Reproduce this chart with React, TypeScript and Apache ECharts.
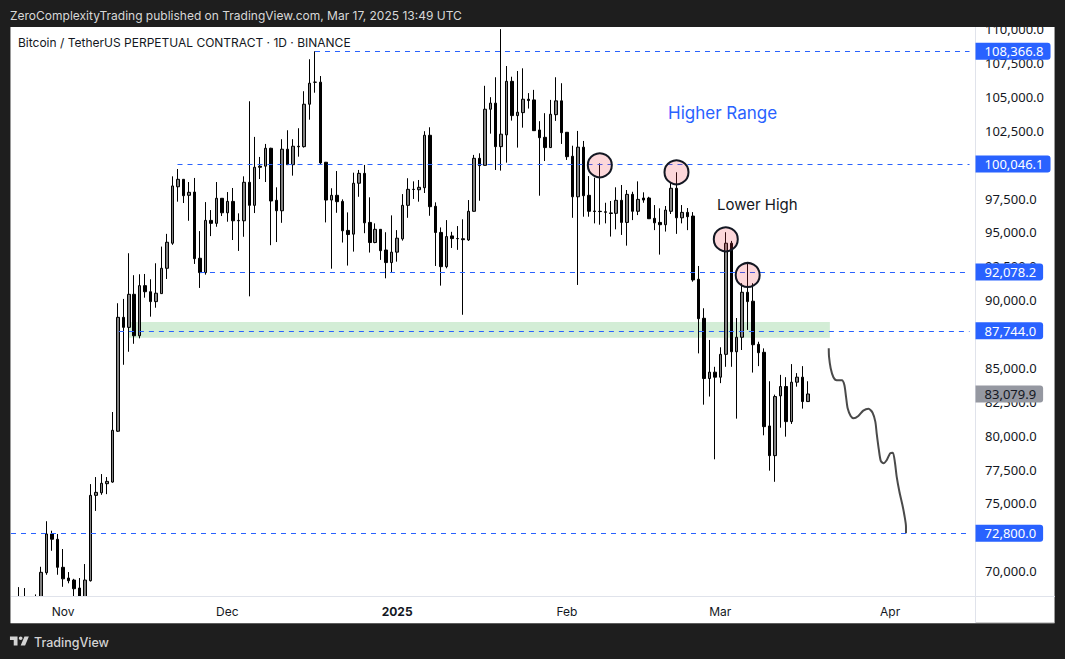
import { useEffect, useRef } from 'react';
import * as echarts from 'echarts';

const firstDay = Date.UTC(2024, 9, 23);
const dayCount = 176;
const categories: string[] = [];
for (let i = 0; i < dayCount; i++) {
  categories.push(new Date(firstDay + i * 86400000).toISOString().slice(0, 10));
}

const monthLabels: Record<string, string> = {
  '2024-11-01': 'Nov',
  '2024-12-01': 'Dec',
  '2025-01-01': '{b|2025}',
  '2025-02-01': 'Feb',
  '2025-03-01': 'Mar',
  '2025-04-01': 'Apr',
};

// 72,500 / 87,500 / 100,000 sit fully behind the level tags in the original
const priceTicks = [
  70000, 75000, 77500, 80000, 82500, 85000, 90000, 92500, 95000, 97500,
  102500, 105000, 107500, 110000,
];

const opens = [
  null, 67900, 67700, 67900, 67700, 68000, 69890, 72750, 72360, 70290,
  69500, 69350, 68760, 68000, 69300, 75600, 75790, 76460, 76580, 80330,
  88735, 87995, 90435, 87375, 91075, 90625, 89895, 90485, 92355, 94205,
  98370, 98920, 97740, 97980, 93095, 92035, 95890, 95670, 97520, 96450,
  97290, 95890, 95860, 98700, 97000, 99890, 99890, 101210, 97370, 96600,
  101140, 100000, 101360, 101330, 104460, 106080, 106090, 100180, 97390, 97740,
  97290, 95150, 94875, 98630, 99360, 95740, 94255, 95230, 93705, 92775,
  93545, 94525, 97000, 98180, 98150, 98300, 102170, 96930, 95000, 92475,
  94745, 94555, 94535, 94445, 96560, 100470, 99950, 104090, 104540, 101330,
  102200, 106150, 103620, 103840, 104830, 104780, 102560, 102020, 101260, 103690,
  104710, 102390, 100620, 97630, 101290, 97740, 96580, 96560, 96520, 96440,
  96410, 97370, 95740, 97810, 96560, 97540, 97540, 96040, 95740, 95570,
  96560, 98260, 96080, 96480, 96210, 91545, 88665, 84220, 84690, 84320,
  86005, 94205, 86195, 87265, 90585, 89925, 86745, 86155, 80720, 78530,
  82940, 83630, 81040, 83950, 84320, 82520,
];

const closes = [
  null, 67600, 67900, 67700, 68000, 69920, 72750, 72360, 70290, 69440,
  69300, 68710, 68000, 69350, 75600, 75820, 76490, 76630, 80400, 88735,
  87995, 90435, 87375, 91075, 90625, 89895, 90515, 92355, 94275, 98430,
  98920, 97710, 97960, 93065, 92035, 95890, 95670, 97520, 96450, 97290,
  95860, 95860, 98700, 97000, 99810, 99810, 101210, 97320, 96600, 101140,
  100000, 101360, 101320, 104460, 106010, 106090, 100130, 97390, 97740, 97270,
  95120, 94845, 98630, 99360, 95710, 94255, 95230, 93655, 92775, 93545,
  94575, 97000, 98180, 98170, 98330, 102170, 96900, 94995, 92475, 94695,
  94545, 94535, 94465, 96560, 100470, 99930, 104090, 104540, 101330, 102250,
  106150, 103620, 103870, 104830, 104730, 102510, 101990, 101260, 103720, 104710,
  102360, 100590, 97630, 101290, 97710, 96560, 96550, 96540, 96490, 96400,
  97370, 95740, 97810, 96560, 97440, 97390, 96010, 95710, 95570, 96650,
  98260, 96080, 96480, 96160, 91495, 88635, 84220, 84690, 84320, 86005,
  94205, 86195, 87265, 90585, 89895, 86715, 86125, 80670, 78530, 82890,
  83630, 81040, 83950, 84320, 82520, 83079.9,
];

const lows = [
  null, 67300, 67400, 67300, 67400, 67700, 69740, 71510, 69740, 68850,
  69110, 68050, 67800, 67800, 69240, 74450, 75640, 75690, 76530, 80280,
  85235, 86195, 86785, 87185, 90185, 88785, 89445, 90485, 91565, 94085,
  97270, 97170, 95860, 92675, 90905, 91885, 94730, 95420, 96210, 95790,
  94440, 93635, 94680, 90285, 96430, 98940, 98720, 94060, 94290, 95710,
  100000, 99190, 100590, 101260, 103320, 105310, 100000, 95740, 92325, 96450,
  94255, 92555, 93585, 97630, 94945, 93515, 94205, 92975, 91615, 92035,
  92845, 94395, 96080, 97470, 97270, 97910, 96230, 92525, 91075, 92355,
  93855, 93715, 88925, 94375, 96530, 97340, 99930, 102290, 99610, 99560,
  100150, 103250, 101260, 102730, 104140, 102490, 97710, 100270, 101230, 103230,
  101530, 100350, 96080, 91125, 96160, 96160, 95670, 95570, 95670, 94695,
  95230, 94815, 94025, 95910, 96280, 97190, 96000, 95170, 93365, 95065,
  96360, 94895, 95670, 95170, 91365, 86075, 82290, 82890, 78260, 83880,
  85085, 85085, 81260, 86325, 87805, 84660, 85135, 80030, 77420, 76600,
  80590, 79930, 80870, 83620, 82000, 82510,
];

const highs = [
  null, 68830, 68760, 68000, 68290, 70330, 73690, 72990, 72750, 71640,
  69940, 69440, 69500, 70530, 76430, 76950, 77170, 76950, 81750, 89775,
  90095, 93465, 91845, 91915, 91935, 91545, 92725, 93955, 94895, 99140,
  99680, 98930, 98720, 99020, 95100, 97240, 96650, 98720, 97520, 97980,
  98280, 96410, 99140, 104680, 102050, 100570, 101530, 101250, 98330, 101880,
  102540, 101880, 102690, 105420, 107780, 108366.8, 106540, 100200, 98260, 99530,
  97440, 96480, 99410, 99610, 99980, 97590, 95670, 95250, 95015, 96260,
  95170, 97830, 99000, 98770, 98870, 102470, 102760, 97220, 95370, 95910,
  95045, 95470, 95970, 97390, 100720, 100840, 105820, 104980, 106450, 110000,
  107280, 106490, 106910, 107110, 105280, 105520, 103210, 103800, 104780, 106450,
  106010, 102400, 101400, 102490, 101750, 99160, 99040, 100100, 97190, 97320,
  98330, 98500, 98130, 98000, 98770, 97960, 97630, 97020, 96780, 96950,
  98700, 99440, 97020, 96800, 96500, 92525, 89405, 87065, 85085, 86525,
  95015, 94375, 88685, 91255, 92805, 91255, 86935, 86445, 84020, 83030,
  84490, 84320, 85285, 84620, 85135, 84020,
];

// horizontal levels: price, first position on the time scale
const levelPrices = [108366.8, 100046.1, 92078.2, 87744.0, 72800.0];
const levelStarts = [55.5, 30.4, 34.5, 19.7, 0];
const lastPrice = 83079.9;

// circled highs
const circleDays = ['2025-02-07', '2025-02-21', '2025-03-02', '2025-03-06'];
const circlePrices = [99955, 99438, 94494, 91860];

// green zone
const zonePrices = [88392, 87233];
const zoneDays = ['2024-11-13', '2025-03-21'];

// hand drawn projection
const sketchDays = [
  149.3, 149.35, 149.65, 150.15, 150.75, 151.7, 152.15, 152.45, 152.75, 153.3, 153.85, 154.7, 155.6,
  156.55, 157.3, 157.8, 158.05, 158.45, 158.8, 159.3, 159.9, 160.5, 161, 161.4, 161.7, 162.2, 162.75,
  163.1, 163.4, 163.4,
];
const sketchPrices = [
  86450, 85830, 84980, 84310, 84090, 84090, 83740, 82880, 82020, 81460, 81290, 81460, 81850, 81990,
  81700, 81040, 80180, 78950, 78140, 77970, 78210, 78700, 78750, 77970, 76980, 75870, 74890, 74150,
  73290, 72800,
];

const fmtPrice = (v: number) => v.toLocaleString('en-US', { minimumFractionDigits: 1, maximumFractionDigits: 1 });

const uiFont = 'Inter, "Noto Sans", sans-serif';
const priceFont = '"Noto Sans", sans-serif';
const logoPath = 'M14 6H2v6h6v9h6V6Zm12 15h-7l6-15h7l-6 15Zm-7-9a3 3 0 1 0 0-6 3 3 0 0 0 0 6Z';

export default function App() {
  const chartRef = useRef<HTMLDivElement>(null);

  useEffect(() => {
    if (!chartRef.current) return;
    document.body.style.margin = '0';
    echarts.graphic.registerShape('tvLogo', echarts.graphic.extendPath(logoPath, {}) as any);
    const chart = echarts.init(chartRef.current, undefined, { renderer: 'svg' });

    const levelLines = levelPrices.map((p, i) => [
      {
        coord: [levelStarts[i], p],
        label: {
          show: true,
          position: 'end',
          distance: 6,
          formatter: fmtPrice(p),
          color: '#ffffff',
          fontFamily: priceFont,
          fontSize: 13,
          backgroundColor: '#2962ff',
          borderRadius: [0, 3, 3, 0],
          padding: [2, 7, 2, 9],
        },
      },
      { coord: [175, p] },
    ]);

    const option: any = {
      animation: false,
      backgroundColor: '#1e1e1e',
      grid: { left: 11, top: 27, width: 964, height: 569, containLabel: false },
      tooltip: { show: false },
      xAxis: [
        {
          type: 'category',
          z: 10,
          data: categories,
          boundaryGap: true,
          axisLine: { show: false },
          axisTick: { show: false },
          splitLine: { show: false },
          axisLabel: {
            interval: (_: number, value: string) => monthLabels[value] != null,
            formatter: (value: string) => monthLabels[value] ?? '',
            color: '#131722',
            fontFamily: uiFont,
            fontSize: 12,
            margin: 9,
            hideOverlap: false,
            rich: { b: { fontWeight: 'bold', fontFamily: uiFont, fontSize: 12, color: '#131722' } },
          },
        },
        { type: 'value', min: 0, max: dayCount, show: false },
      ],
      yAxis: {
        type: 'value',
        position: 'right',
        min: 68173,
        max: 110159,
        axisLine: { show: false },
        axisTick: { show: false },
        splitLine: { show: false },
        axisLabel: {
          customValues: priceTicks,
          formatter: (v: number) => fmtPrice(v),
          color: '#131722',
          fontFamily: priceFont,
          fontSize: 13,
          margin: 10,
          backgroundColor: 'rgba(0,0,0,0)',
          padding: [0, 0, 3, 0],
        },
      },
      series: [
        {
          type: 'candlestick',
          xAxisIndex: 0,
          barWidth: 3,
          data: opens.map((o, i) => (o == null ? '-' : [o, closes[i], lows[i], highs[i]])),
          itemStyle: {
            color: '#808080',
            color0: '#000000',
            borderColor: '#000000',
            borderColor0: '#000000',
            borderWidth: 1,
          },
          markArea: {
            silent: true,
            itemStyle: { color: '#d3edd6' },
            data: [[{ coord: [zoneDays[0], zonePrices[0]] }, { coord: [zoneDays[1], zonePrices[1]] }]],
          },
        },
        {
          type: 'line',
          xAxisIndex: 1,
          data: sketchDays.map((d, i) => [d, sketchPrices[i]]),
          showSymbol: false,
          smooth: 0.25,
          lineStyle: { color: '#4a4a4a', width: 2 },
          markLine: {
            silent: true,
            symbol: 'none',
            lineStyle: { color: '#2962ff', type: [5, 5], width: 1 },
            data: [
              ...levelLines,
              [
                {
                  coord: [170, lastPrice],
                  lineStyle: { color: 'rgba(0,0,0,0)' },
                  label: {
                    show: true,
                    position: 'end',
                    distance: 6,
                    formatter: fmtPrice(lastPrice),
                    color: '#131722',
                    fontFamily: priceFont,
                    fontSize: 13,
                    backgroundColor: '#9598a1',
                    borderRadius: [0, 3, 3, 0],
                    padding: [2, 7, 2, 9],
                  },
                },
                { coord: [175, lastPrice] },
              ],
            ],
          },
        },
        {
          type: 'scatter',
          xAxisIndex: 0,
          z: 5,
          symbol: 'circle',
          symbolSize: 24,
          data: circleDays.map((d, i) => [d, circlePrices[i]]),
          itemStyle: { color: 'rgba(242,54,69,0.2)', borderColor: '#131722', borderWidth: 2, opacity: 1 },
        },
      ],
      graphic: [
        { type: 'rect', z: -10, shape: { x: 10.5, y: 20, width: 1044, height: 603 }, style: { fill: '#ffffff', stroke: '#9a9a9a', lineWidth: 1 } },
        { type: 'line', z: -9, shape: { x1: 975.5, y1: 27, x2: 975.5, y2: 623 }, style: { stroke: '#e0e3eb', lineWidth: 1 } },
        // candles are not clipped by the grid, the time scale strip hides what runs below it
        { type: 'rect', z: 6, shape: { x: 11, y: 596, width: 964, height: 27 }, style: { fill: '#ffffff' } },
        { type: 'line', z: 7, shape: { x1: 11, y1: 596.5, x2: 1055, y2: 596.5 }, style: { stroke: '#e0e3eb', lineWidth: 1 } },
        { type: 'rect', z: 100, shape: { x: 0, y: 0, width: 1065, height: 27 }, style: { fill: '#1e1e1e' } },
        {
          type: 'text', z: 101, x: 10, y: 15.5,
          style: { text: 'ZeroComplexityTrading published on TradingView.com, Mar 17, 2025 13:49 UTC', fill: '#d8d8d8', font: `12px ${uiFont}`, verticalAlign: 'middle' },
        },
        {
          type: 'text', z: 101, x: 18, y: 42.5,
          style: { text: 'Bitcoin / TetherUS PERPETUAL CONTRACT · 1D · BINANCE', fill: '#131722', font: `12px ${uiFont}`, verticalAlign: 'middle' },
        },
        {
          type: 'text', z: 101, x: 668, y: 113,
          style: { text: 'Higher Range', fill: '#2962ff', font: `17px ${uiFont}`, verticalAlign: 'middle' },
        },
        {
          type: 'text', z: 101, x: 717, y: 204,
          style: { text: 'Lower High', fill: '#131722', font: `15px ${uiFont}`, verticalAlign: 'middle' },
        },
        { type: 'tvLogo', z: 101, x: 8.7, y: 632.9, scaleX: 0.63, scaleY: 0.6, style: { fill: '#d4d4d4' } },
        {
          type: 'text', z: 101, x: 34, y: 642.5,
          style: { text: 'TradingView', fill: '#d4d4d4', font: `500 12.5px ${uiFont}`, verticalAlign: 'middle' },
        },
      ],
    };

    chart.setOption(option);
    return () => chart.dispose();
  }, []);

  return <div ref={chartRef} style={{ width: 1065, height: 659 }} />;
}
